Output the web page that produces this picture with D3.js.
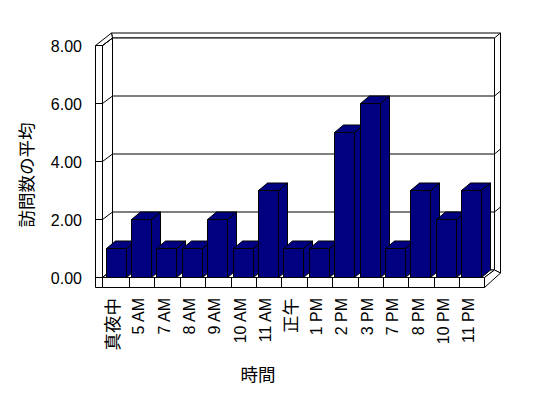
<!DOCTYPE html>
<html>
<meta charset="utf-8">
<script src="https://d3js.org/d3.v7.js"></script>
<style>
  body { margin: 0; background: #fff; }
  text { font-family: "Liberation Sans", Arial, "Noto Sans CJK JP", sans-serif; fill: #000; }
</style>
<body>
<div id="chart"></div>
<script>
  // data
  var categories = ["真夜中", "5 AM", "7 AM", "8 AM", "9 AM", "10 AM", "11 AM", "正午",
                    "1 PM", "2 PM", "3 PM", "7 PM", "8 PM", "10 PM", "11 PM"];
  var visits = [1, 2, 1, 1, 2, 1, 3, 1, 1, 5, 6, 1, 3, 2, 3];
  var yTicks = [0, 2, 4, 6, 8];
  var yTitle = "訪問数の平均";
  var xTitle = "時間";

  var width = 548, height = 398;
  var svg = d3.select("#chart").append("svg")
    .attr("width", width)
    .attr("height", height);

  // scales (front plane of the 3d box)
  var x = d3.scaleBand().domain(categories).range([103.5, 484.5]);
  var y = d3.scaleLinear().domain([0, 8]).range([277.5, 45.5]);
  var dx = 10, dy = -7.5;      // depth of the box
  var bdx = 9, bdy = -7.5;     // depth of the bars
  var navy = "#000080";
  var left = 95.5, inner = 102.5, back = inner + dx, right = 494.5;

  function poly(g, pts, fill) {
    g.append("path")
      .attr("d", "M" + pts.map(function(p) { return p.join(","); }).join("L") + "Z")
      .attr("fill", fill)
      .attr("stroke", "#000")
      .attr("stroke-width", 1)
      .attr("stroke-linejoin", "miter");
  }
  function line(g, x1, y1, x2, y2) {
    g.append("line")
      .attr("x1", x1).attr("y1", y1).attr("x2", x2).attr("y2", y2)
      .attr("stroke", "#000").attr("stroke-width", 1);
  }

  var walls = svg.append("g");
  var top8 = y(8), bot0 = y(0);

  // back wall and its thickness
  poly(walls, [[back - 1, top8 + dy - 5], [right + 6, top8 + dy - 5], [right + 6, bot0 + dy + 3],
               [right, bot0 + dy], [right, top8 + dy], [back, top8 + dy]], "#fff");
  poly(walls, [[back, top8 + dy], [right, top8 + dy], [right, bot0 + dy], [back, bot0 + dy]], "#fff");
  line(walls, right, top8 + dy, right + 6, top8 + dy - 5);
  yTicks.filter(function(v) { return v > 0 && v < 8; }).forEach(function(v) {
    line(walls, back, y(v) + dy, right, y(v) + dy);
    line(walls, right, y(v) + dy, right + 6, y(v) + dy - 5);
  });

  // left side wall
  poly(walls, [[inner, top8], [back, top8 + dy], [back, bot0 + dy], [inner, bot0]], "#fff");
  poly(walls, [[left, top8], [inner, top8], [back, top8 + dy], [back - 1, top8 + dy - 5]], "#fff");
  poly(walls, [[left, top8], [inner, top8], [inner, bot0 + 10], [left, bot0 + 10]], "#fff");
  yTicks.forEach(function(v) {
    line(walls, left, y(v), inner, y(v));
    line(walls, inner, y(v), back, y(v) + dy);
  });

  // floor slab
  poly(walls, [[inner, bot0], [back, bot0 + dy], [right, bot0 + dy], [right - dx, bot0]], "#fff");
  poly(walls, [[right - dx, bot0], [right, bot0 + dy], [right + 6, bot0 + dy + 3], [right - dx, bot0 + 10]], "#fff");
  poly(walls, [[inner, bot0], [right - dx, bot0], [right - dx, bot0 + 10], [inner, bot0 + 10]], "#fff");
  categories.slice(1).forEach(function(c) {
    var tx = Math.round(x(c)) + 0.5;
    line(walls, tx, bot0, tx, bot0 + 10);
  });

  // bars, left to right so each front face covers the previous side
  var bars = svg.append("g");
  categories.forEach(function(c, i) {
    var x0 = Math.round(x(c) + 2) + 0.5, w = 20;
    var yt = y(visits[i]), yb = bot0;
    var g = bars.append("g");
    poly(g, [[x0 + w, yt], [x0 + w + bdx, yt + bdy], [x0 + w + bdx, yb + bdy], [x0 + w, yb]], navy);
    poly(g, [[x0, yt], [x0 + bdx, yt + bdy], [x0 + w + bdx, yt + bdy], [x0 + w, yt]], navy);
    poly(g, [[x0, yt], [x0 + w, yt], [x0 + w, yb], [x0, yb]], navy);
  });

  // y tick labels
  svg.append("g").selectAll("text")
    .data(yTicks)
    .enter().append("text")
    .attr("x", 82)
    .attr("y", function(d) { return y(d) + 1; })
    .attr("text-anchor", "end")
    .attr("dominant-baseline", "central")
    .style("font-size", "16px")
    .text(function(d) { return d.toFixed(2); });

  // category labels, rotated
  svg.append("g").selectAll("text")
    .data(categories)
    .enter().append("text")
    .attr("transform", function(d) {
      return "translate(" + (x(d) + x.bandwidth() / 2 - 3) + ",298) rotate(-90)";
    })
    .attr("text-anchor", "end")
    .attr("dominant-baseline", "central")
    .attr("fill", "#000")
    .style("font-size", function(d) { return /[^\x00-\x7F]/.test(d) ? "17.5px" : "16px"; })
    .text(function(d) { return d; });

  // axis titles
  svg.append("text")
    .attr("transform", "translate(27,175) rotate(-90)")
    .attr("text-anchor", "middle")
    .attr("dominant-baseline", "central")
    .style("font-size", "17.5px")
    .text(yTitle);

  svg.append("text")
    .attr("x", 258)
    .attr("y", 375)
    .attr("text-anchor", "middle")
    .attr("dominant-baseline", "central")
    .style("font-size", "17.5px")
    .text(xTitle);
</script>
</body>
</html>
